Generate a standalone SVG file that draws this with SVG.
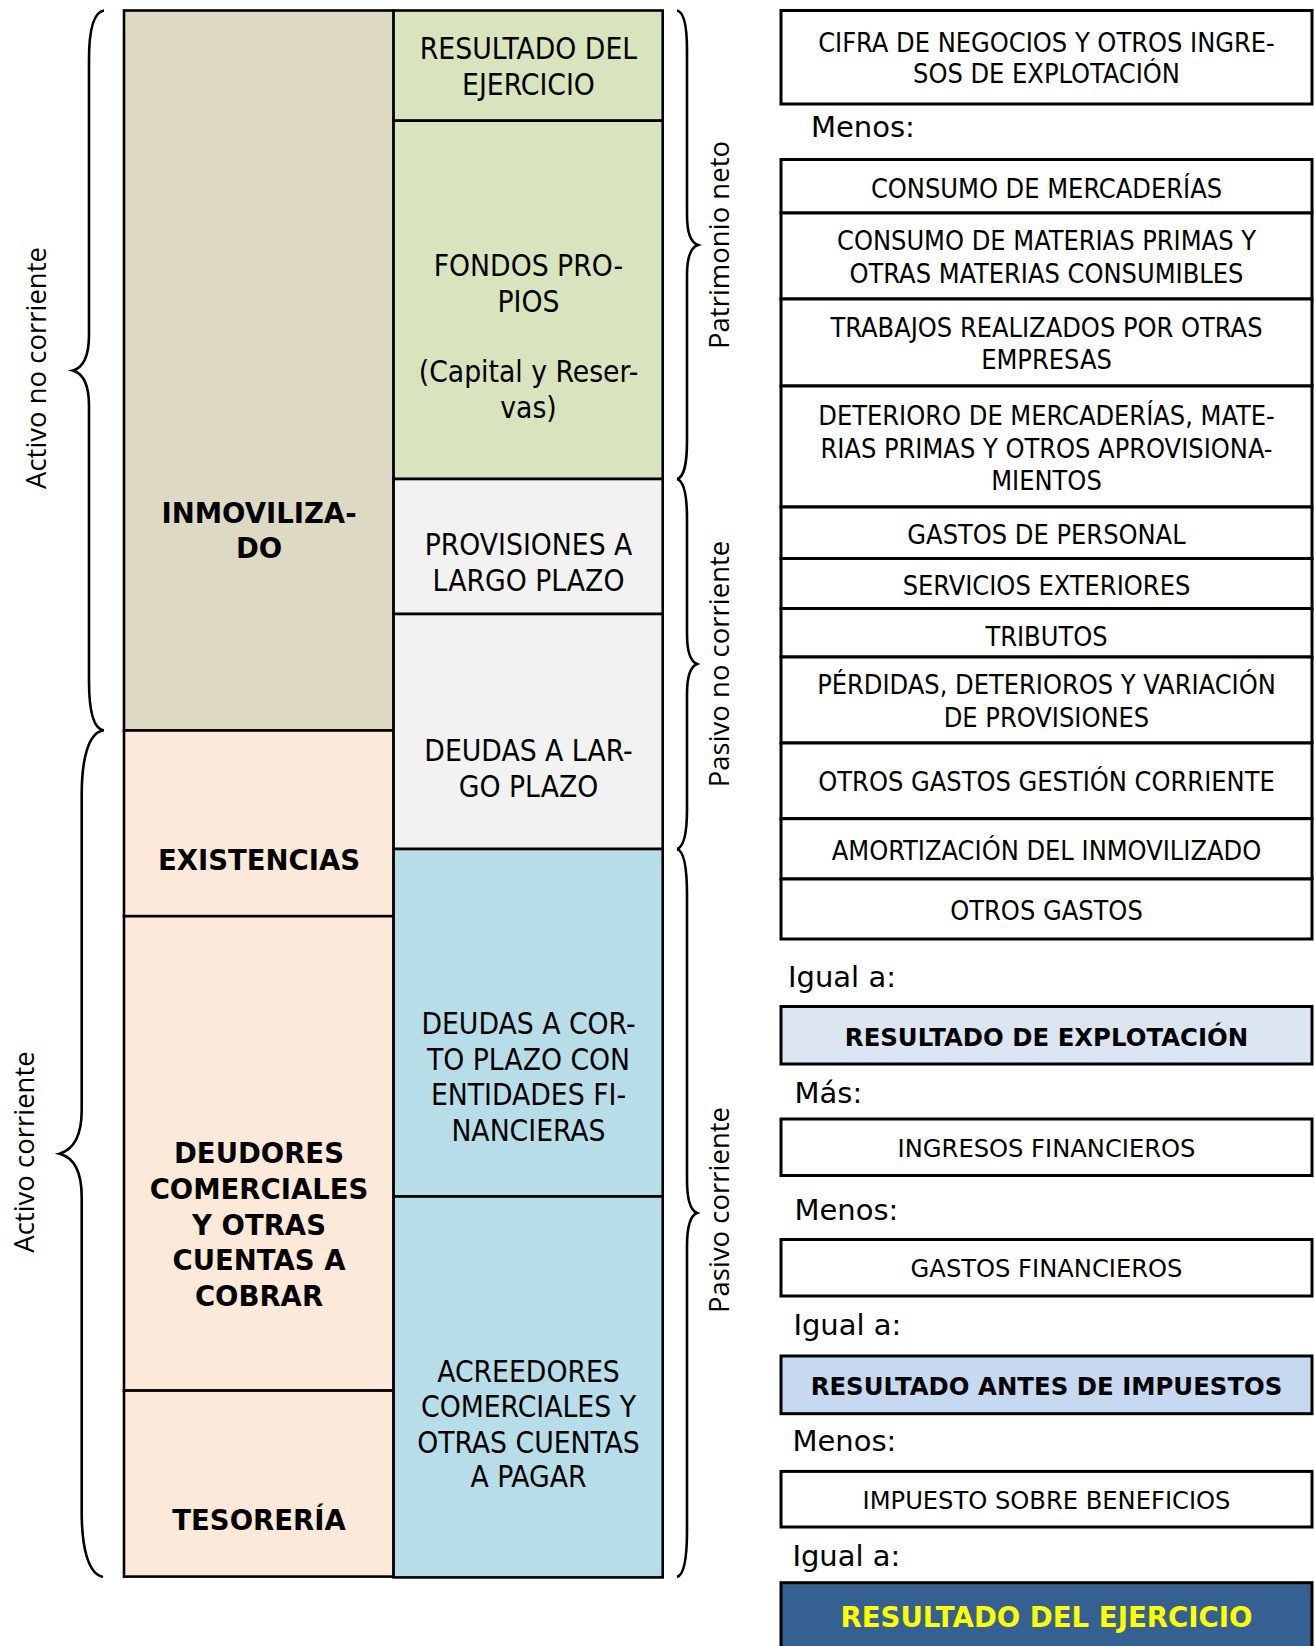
<svg xmlns="http://www.w3.org/2000/svg" width="1314" height="1646" viewBox="0 0 1314 1646">
<style>
.b{stroke:#000;stroke-width:2.6}
.r{fill:#fff;stroke:#000;stroke-width:3}
.br{fill:none;stroke:#000;stroke-width:2.6}
.tc{font-family:"DejaVu Sans Condensed","DejaVu Sans",sans-serif;font-stretch:condensed;font-size:26.9px;text-anchor:middle;fill:#000}
.tm{font-family:"DejaVu Sans Condensed","DejaVu Sans",sans-serif;font-stretch:condensed;font-size:29.7px;text-anchor:middle;fill:#000}
.tb{font-family:"DejaVu Sans","Verdana",sans-serif;font-weight:bold;font-size:27.5px;text-anchor:middle;fill:#000}
.tv{font-family:"DejaVu Sans","Verdana",sans-serif;font-size:24.2px;text-anchor:middle;fill:#000}
.tvb{font-family:"DejaVu Sans","Verdana",sans-serif;font-weight:bold;font-size:24.4px;text-anchor:middle;fill:#000}
.lb{font-family:"DejaVu Sans","Verdana",sans-serif;font-size:29px;fill:#000}
.rot{font-family:"Open Sans","DejaVu Sans",sans-serif;font-size:27.5px;text-anchor:middle;fill:#000}
</style>
<rect width="1314" height="1646" fill="#fff"/>

<g id="inmovilizado"><rect class="b" x="124" y="10.5" width="269.6" height="720" fill="#DDD9C3"/>
<text class="tb" x="259" y="523.2">INMOVILIZA-</text><text class="tb" x="259" y="557.8">DO</text></g>
<g id="existencias"><rect class="b" x="124" y="730.5" width="269.6" height="185.7" fill="#FDE9D9"/>
<text class="tb" x="259" y="869.5">EXISTENCIAS</text></g>
<g id="deudores"><rect class="b" x="124" y="916.2" width="269.6" height="474.4" fill="#FDE9D9"/>
<text class="tb" x="259" y="1163.4">DEUDORES</text><text class="tb" x="259" y="1199">COMERCIALES</text><text class="tb" x="259" y="1234.8">Y OTRAS</text><text class="tb" x="259" y="1270.4">CUENTAS A</text><text class="tb" x="259" y="1306">COBRAR</text></g>
<g id="tesoreria"><rect class="b" x="124" y="1390.6" width="269.6" height="186" fill="#FDE9D9"/>
<text class="tb" x="259" y="1529.7">TESORERÍA</text></g>

<g id="resultado-ejercicio-balance"><rect class="b" x="393.6" y="10.5" width="269.1" height="110.2" fill="#D7E4BD"/>
<text class="tm" x="528.5" y="59">RESULTADO DEL</text><text class="tm" x="528.5" y="94.8">EJERCICIO</text></g>
<g id="fondos-propios"><rect class="b" x="393.6" y="120.7" width="269.1" height="358.3" fill="#D7E4BD"/>
<text class="tm" x="528.5" y="276.2">FONDOS PRO-</text><text class="tm" x="528.5" y="312">PIOS</text><text class="tm" x="528.5" y="382.2">(Capital y Reser-</text><text class="tm" x="528.5" y="418">vas)</text></g>
<g id="provisiones"><rect class="b" x="393.6" y="479" width="269.1" height="135" fill="#F2F2F2"/>
<text class="tm" x="528.5" y="555.4">PROVISIONES A</text><text class="tm" x="528.5" y="591.1">LARGO PLAZO</text></g>
<g id="deudas-lp"><rect class="b" x="393.6" y="614" width="269.1" height="235" fill="#F2F2F2"/>
<text class="tm" x="528.5" y="761.1">DEUDAS A LAR-</text><text class="tm" x="528.5" y="796.8">GO PLAZO</text></g>
<g id="deudas-cp"><rect class="b" x="393.6" y="849" width="269.1" height="347.5" fill="#B7DDE8"/>
<text class="tm" x="528.5" y="1034">DEUDAS A COR-</text><text class="tm" x="528.5" y="1069.8">TO PLAZO CON</text><text class="tm" x="528.5" y="1105.4">ENTIDADES FI-</text><text class="tm" x="528.5" y="1141">NANCIERAS</text></g>
<g id="acreedores"><rect class="b" x="393.6" y="1196.5" width="269.1" height="380.9" fill="#B7DDE8"/>
<text class="tm" x="528.5" y="1382.4">ACREEDORES</text><text class="tm" x="528.5" y="1417">COMERCIALES Y</text><text class="tm" x="528.5" y="1452.7">OTRAS CUENTAS</text><text class="tm" x="528.5" y="1487.3">A PAGAR</text></g>

<g id="braces">
<path class="br" d="M104,10.5 C93,12 89,30 89,60 L89,335 C89,358 82,368 72.7,370.5 C82,373 89,383 89,406 L89,681 C89,711 93,729 104,730.5"/>
<path class="br" d="M103,730.5 C88,733 81.7,760 81.7,795 L81.7,1110 C81.7,1138 72,1150 59.5,1153.7 C72,1157 81.7,1169 81.7,1197 L81.7,1512 C81.7,1547 88,1574 103,1577"/>
<path class="br" d="M677,10.5 C684,12 687,25 687,50 L687,215 C687,235 692,243 698,245 C692,247 687,255 687,275 L687,440 C687,465 684,477 677,479"/>
<path class="br" d="M677,479 C684,481 687,494 687,519 L687,634 C687,654 692,662 697,664 C692,666 687,674 687,694 L687,809 C687,834 684,847 677,849"/>
<path class="br" d="M677,849 C684,851 687,866 687,895 L687,1180 C687,1203 692,1211 697,1213 C692,1215 687,1223 687,1246 L687,1531 C687,1560 684,1575 677,1577"/>
</g>

<g id="labels-rotated">
<text class="rot" transform="translate(46,368) rotate(-90)">Activo no corriente</text>
<text class="rot" transform="translate(34,1152) rotate(-90)">Activo corriente</text>
<text class="rot" transform="translate(729,245) rotate(-90)">Patrimonio neto</text>
<text class="rot" transform="translate(729,664) rotate(-90)">Pasivo no corriente</text>
<text class="rot" transform="translate(729,1210) rotate(-90)">Pasivo corriente</text>
</g>

<g id="cifra"><rect class="r" x="781" y="10.5" width="531" height="93.5"/>
<text class="tc" x="1046.5" y="51.7">CIFRA DE NEGOCIOS Y OTROS INGRE-</text><text class="tc" x="1046.5" y="83.2">SOS DE EXPLOTACIÓN</text></g>
<text class="lb" x="811" y="136.6">Menos:</text>
<g id="consumo-mercaderias"><rect class="r" x="781" y="159.5" width="531" height="53.5"/>
<text class="tc" x="1046.5" y="197.6">CONSUMO DE MERCADERÍAS</text></g>
<g id="consumo-materias"><rect class="r" x="781" y="213" width="531" height="86"/>
<text class="tc" x="1046.5" y="250">CONSUMO DE MATERIAS PRIMAS Y</text><text class="tc" x="1046.5" y="282.6">OTRAS MATERIAS CONSUMIBLES</text></g>
<g id="trabajos"><rect class="r" x="781" y="299" width="531" height="87"/>
<text class="tc" x="1046.5" y="337.1">TRABAJOS REALIZADOS POR OTRAS</text><text class="tc" x="1046.5" y="368.7">EMPRESAS</text></g>
<g id="deterioro"><rect class="r" x="781" y="386" width="531" height="121"/>
<text class="tc" x="1046.5" y="425.3">DETERIORO DE MERCADERÍAS, MATE-</text><text class="tc" x="1046.5" y="457.8">RIAS PRIMAS Y OTROS APROVISIONA-</text><text class="tc" x="1046.5" y="490.4">MIENTOS</text></g>
<g id="gastos-personal"><rect class="r" x="781" y="507" width="531" height="51.5"/>
<text class="tc" x="1046.5" y="543.9">GASTOS DE PERSONAL</text></g>
<g id="servicios"><rect class="r" x="781" y="558.5" width="531" height="50"/>
<text class="tc" x="1046.5" y="595.3">SERVICIOS EXTERIORES</text></g>
<g id="tributos"><rect class="r" x="781" y="608.5" width="531" height="48.5"/>
<text class="tc" x="1046.5" y="645.7">TRIBUTOS</text></g>
<g id="perdidas"><rect class="r" x="781" y="657" width="531" height="86"/>
<text class="tc" x="1046.5" y="694">PÉRDIDAS, DETERIOROS Y VARIACIÓN</text><text class="tc" x="1046.5" y="726.5">DE PROVISIONES</text></g>
<g id="otros-gestion"><rect class="r" x="781" y="743" width="531" height="75.7"/>
<text class="tc" x="1046.5" y="790.5">OTROS GASTOS GESTIÓN CORRIENTE</text></g>
<g id="amortizacion"><rect class="r" x="781" y="818.7" width="531" height="60.3"/>
<text class="tc" x="1046.5" y="859.7">AMORTIZACIÓN DEL INMOVILIZADO</text></g>
<g id="otros-gastos"><rect class="r" x="781" y="879" width="531" height="60"/>
<text class="tc" x="1046.5" y="919.7">OTROS GASTOS</text></g>
<text class="lb" x="788" y="986.6">Igual a:</text>
<g id="resultado-explotacion"><rect class="r" x="781" y="1006.5" width="531" height="57.5" style="fill:#DCE6F2"/>
<text class="tvb" x="1046.5" y="1045.6">RESULTADO DE EXPLOTACIÓN</text></g>
<text class="lb" x="794.5" y="1103">Más:</text>
<g id="ingresos-financieros"><rect class="r" x="781" y="1119" width="531" height="56.5"/>
<text class="tv" x="1046.5" y="1156.8">INGRESOS FINANCIEROS</text></g>
<text class="lb" x="794.5" y="1219.6">Menos:</text>
<g id="gastos-financieros"><rect class="r" x="781" y="1239.5" width="531" height="56.5"/>
<text class="tv" x="1046.5" y="1276.5">GASTOS FINANCIEROS</text></g>
<text class="lb" x="793.4" y="1335">Igual a:</text>
<g id="resultado-antes"><rect class="r" x="781" y="1356" width="531" height="57.7" style="fill:#C6D9F1"/>
<text class="tvb" x="1046.5" y="1395.1">RESULTADO ANTES DE IMPUESTOS</text></g>
<text class="lb" x="792.4" y="1450.6">Menos:</text>
<g id="impuesto"><rect class="r" x="781" y="1471.4" width="531" height="55.6"/>
<text class="tv" x="1046.5" y="1508.5">IMPUESTO SOBRE BENEFICIOS</text></g>
<text class="lb" x="792.4" y="1565.6">Igual a:</text>
<g id="resultado-ejercicio"><rect class="r" x="781" y="1582.7" width="531" height="80" style="fill:#376092"/>
<text class="tvb" x="1046.5" y="1627.3" style="font-size:27.6px;fill:#FFFF00">RESULTADO DEL EJERCICIO</text></g>
</svg>
